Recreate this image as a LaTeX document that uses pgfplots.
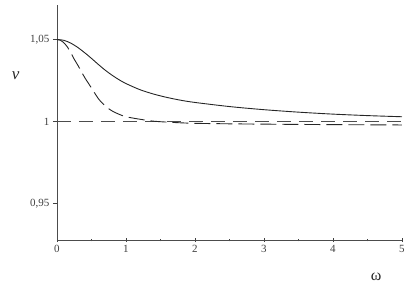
\documentclass[border=0pt]{standalone}
\usepackage{pgfplots}
\pgfplotsset{compat=1.18}
\usepackage{fontspec}
\setmainfont{Liberation Serif}
\begin{document}
\begin{tikzpicture}
\path (-57pt,-50pt) rectangle (356pt,240pt);
\begin{axis}[
  at={(0,0)}, anchor=south west,
  scale only axis, width=345pt, height=235pt,
  xmin=0, xmax=5, ymin=0.928, ymax=1.071,
  axis lines*=left,
  axis line style={draw=black!70, line width=0.8pt},
  xtick={0,1,2,3,4,5},
  minor xtick={0.5,1.5,2.5,3.5,4.5},
  ytick={0.95,1,1.05},
  yticklabels={{0,95},{1},{1,05}},
  tick style={draw=black!75, line width=0.8pt},
  major tick length=4pt, minor tick length=2.5pt,
  xtick align=center, ytick align=outside,
  tick label style={font=\fontsize{11}{13}\selectfont, text=black!75},
  /pgf/number format/assume math mode=true,
  clip=false,
]
\addplot[black!70, line width=0.8pt, dash pattern=on 14pt off 8pt] coordinates {(0,1) (5,1)};
\addplot[black!85, line width=0.9pt, smooth] coordinates {
(0,1.05) (0.1,1.0495) (0.2,1.0478) (0.3,1.0452) (0.4,1.0420) (0.5,1.0385) (0.6,1.0348) (0.7,1.0313) (0.8,1.0282) (0.9,1.0255) (1,1.0232) (1.2,1.0195) (1.4,1.0168) (1.6,1.0147) (1.8,1.0130) (2,1.0117) (2.5,1.0092) (3,1.0073) (3.5,1.0058) (4,1.0046) (4.5,1.0037) (5,1.003)};
\addplot[black!85, line width=0.9pt, smooth, dash pattern=on 16pt off 6pt] coordinates {
(0,1.05) (0.05,1.0495) (0.1,1.048) (0.15,1.0455) (0.2,1.042) (0.25,1.038) (0.3,1.0345) (0.4,1.027) (0.5,1.0205) (0.6,1.014) (0.7,1.0095) (0.8,1.0065) (0.9,1.0045) (1,1.003) (1.2,1.0015) (1.4,1.0003) (1.7,0.9995) (2,0.999) (2.5,0.9987) (3,0.9985) (4,0.9982) (5,0.998)};
\node[font=\fontsize{17}{19}\selectfont\itshape, text=black!85] at (rel axis cs:-0.12,0.70) {v};
\node[font=\fontsize{16}{18}\selectfont, text=black!85] at (rel axis cs:0.925,-0.157) {ω};
\end{axis}
\end{tikzpicture}
\end{document}
